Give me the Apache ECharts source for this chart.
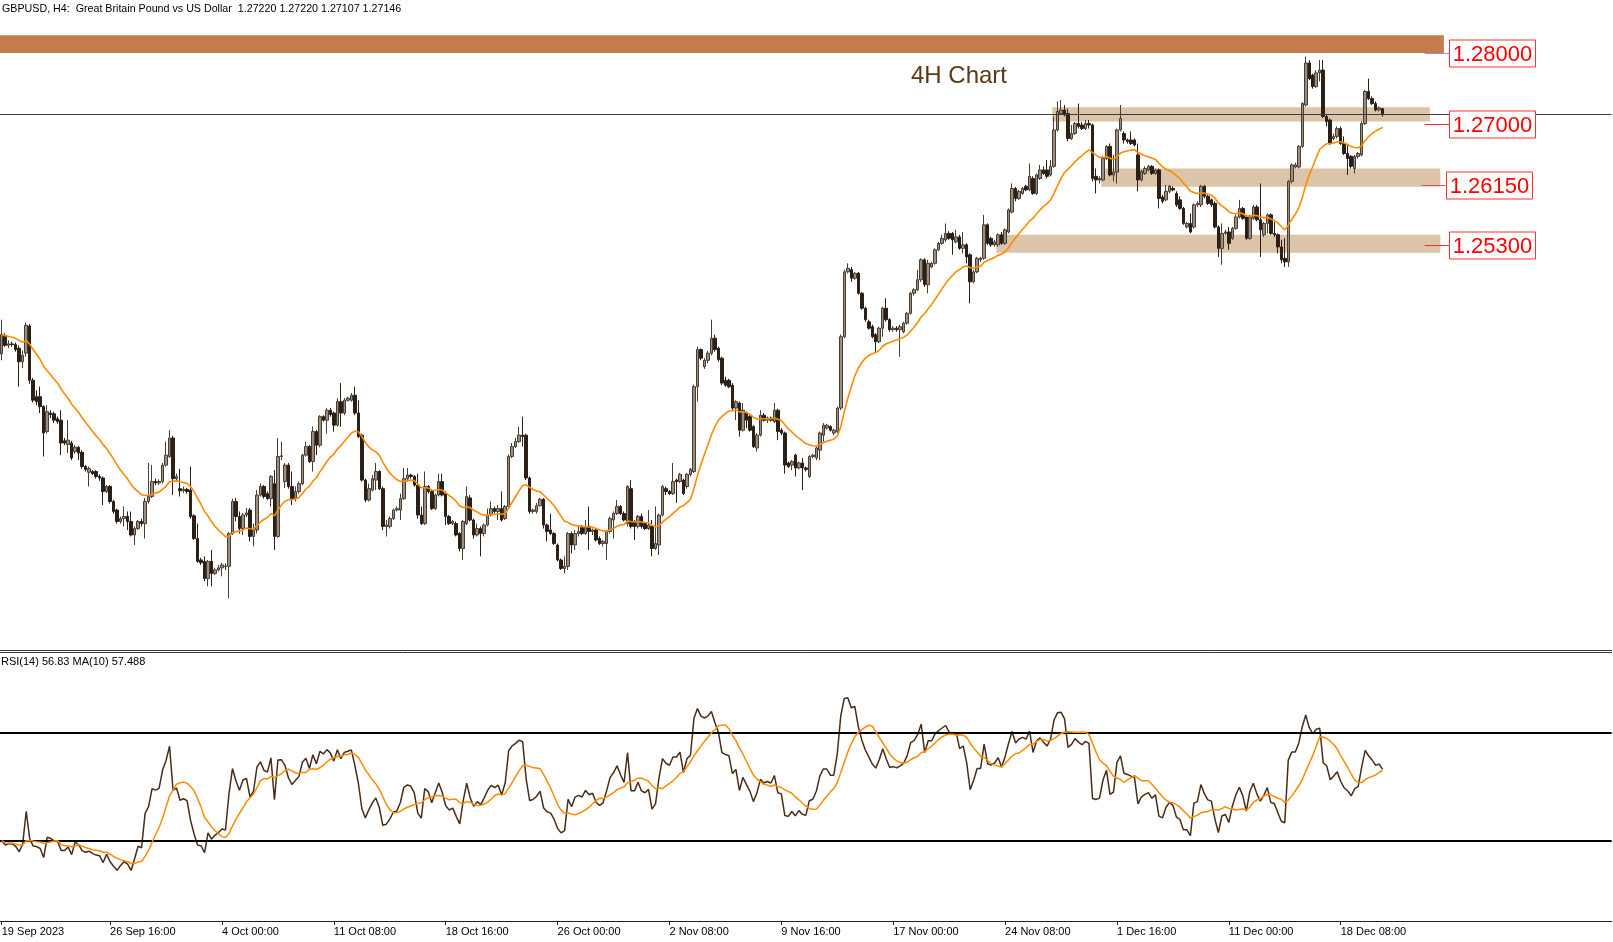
<!DOCTYPE html>
<html><head><meta charset="utf-8">
<script src="https://cdn.jsdelivr.net/npm/echarts/dist/echarts.min.js"></script>
<style>html,body{margin:0;padding:0;background:#fff;overflow:hidden}#c{width:1613px;height:942px}</style>
</head><body><div id="c"></div>
<script>
// ---- DATA: GBPUSD H4 bars [open, high, low, close], one array per trading week ----
const wkSep19 = [[1.2378,1.2426,1.2369,1.2405],[1.2404,1.2407,1.2388,1.2390],[1.2390,1.2397,1.2386,1.2392],[1.2392,1.2395,1.2388,1.2391],[1.2391,1.2394,1.2381,1.2384],[1.2386,1.2390,1.2332,1.2367],[1.2367,1.2383,1.2358,1.2376],[1.2379,1.2422,1.2374,1.2418],[1.2417,1.2420,1.2336,1.2341],[1.2341,1.2344,1.2310,1.2313],[1.2318,1.2327,1.2306,1.2311],[1.2318,1.2332,1.2295,1.2304],[1.2304,1.2306,1.2234,1.2267],[1.2269,1.2306,1.2266,1.2297],[1.2295,1.2299,1.2288,1.2293],[1.2294,1.2297,1.2281,1.2285],[1.2287,1.2290,1.2280,1.2283],[1.2285,1.2299,1.2236,1.2253],[1.2256,1.2260,1.2250,1.2253],[1.2251,1.2285,1.2239,1.2257],[1.2253,1.2256,1.2229,1.2232]];
const wkSep25 = [[1.2241,1.2250,1.2238,1.2247],[1.2247,1.2249,1.2229,1.2239],[1.2240,1.2243,1.2217,1.2220],[1.2220,1.2222,1.2213,1.2216],[1.2212,1.2220,1.2192,1.2217],[1.2213,1.2215,1.2208,1.2210],[1.2213,1.2215,1.2203,1.2206],[1.2206,1.2209,1.2200,1.2204],[1.2204,1.2206,1.2166,1.2185],[1.2185,1.2194,1.2183,1.2192],[1.2192,1.2194,1.2168,1.2171],[1.2171,1.2173,1.2154,1.2157],[1.2159,1.2161,1.2140,1.2143],[1.2143,1.2150,1.2140,1.2147],[1.2147,1.2164,1.2136,1.2150],[1.2150,1.2157,1.2131,1.2143],[1.2143,1.2157,1.2122,1.2124],[1.2124,1.2136,1.2110,1.2133],[1.2133,1.2145,1.2131,1.2143],[1.2143,1.2147,1.2136,1.2140],[1.2140,1.2176,1.2119,1.2171],[1.2171,1.2225,1.2168,1.2178],[1.2178,1.2222,1.2176,1.2199],[1.2199,1.2203,1.2194,1.2197],[1.2197,1.2202,1.2194,1.2199],[1.2199,1.2225,1.2196,1.2222],[1.2222,1.2255,1.2220,1.2236],[1.2234,1.2271,1.2232,1.2260],[1.2260,1.2263,1.2180,1.2203],[1.2203,1.2210,1.2199,1.2206]];
const wkOct02 = [[1.2189,1.2217,1.2178,1.2186],[1.2186,1.2192,1.2183,1.2188],[1.2188,1.2190,1.2182,1.2185],[1.2187,1.2220,1.2147,1.2150],[1.2151,1.2153,1.2117,1.2119],[1.2119,1.2140,1.2085,1.2087],[1.2089,1.2092,1.2082,1.2085],[1.2087,1.2094,1.2059,1.2063],[1.2063,1.2089,1.2052,1.2087],[1.2087,1.2103,1.2052,1.2070],[1.2070,1.2078,1.2068,1.2075],[1.2075,1.2082,1.2073,1.2078],[1.2078,1.2085,1.2066,1.2082],[1.2080,1.2084,1.2075,1.2080],[1.2080,1.2128,1.2035,1.2126],[1.2126,1.2175,1.2124,1.2171],[1.2171,1.2176,1.2143,1.2150],[1.2150,1.2157,1.2126,1.2133],[1.2133,1.2155,1.2124,1.2152],[1.2152,1.2162,1.2149,1.2155],[1.2159,1.2162,1.2115,1.2122],[1.2122,1.2140,1.2108,1.2131],[1.2131,1.2187,1.2126,1.2180],[1.2180,1.2196,1.2178,1.2192],[1.2192,1.2194,1.2175,1.2178],[1.2182,1.2185,1.2173,1.2175],[1.2175,1.2208,1.2164,1.2206],[1.2196,1.2215,1.2103,1.2122],[1.2122,1.2260,1.2120,1.2234],[1.2234,1.2255,1.2229,1.2235]];
const wkOct09 = [[1.2199,1.2225,1.2190,1.2222],[1.2222,1.2225,1.2189,1.2192],[1.2192,1.2213,1.2166,1.2175],[1.2175,1.2192,1.2171,1.2185],[1.2185,1.2199,1.2182,1.2196],[1.2196,1.2238,1.2194,1.2236],[1.2236,1.2255,1.2234,1.2248],[1.2248,1.2250,1.2225,1.2227],[1.2227,1.2276,1.2213,1.2269],[1.2269,1.2271,1.2236,1.2250],[1.2250,1.2292,1.2247,1.2290],[1.2290,1.2292,1.2283,1.2285],[1.2285,1.2302,1.2266,1.2299],[1.2299,1.2302,1.2290,1.2293],[1.2295,1.2297,1.2269,1.2278],[1.2278,1.2316,1.2276,1.2311],[1.2311,1.2337,1.2276,1.2295],[1.2295,1.2316,1.2292,1.2313],[1.2313,1.2318,1.2311,1.2316],[1.2313,1.2323,1.2311,1.2320],[1.2320,1.2332,1.2292,1.2295],[1.2295,1.2313,1.2260,1.2262],[1.2264,1.2266,1.2199,1.2201],[1.2201,1.2203,1.2170,1.2173],[1.2173,1.2196,1.2171,1.2189],[1.2187,1.2208,1.2185,1.2203],[1.2201,1.2225,1.2187,1.2213],[1.2213,1.2215,1.2187,1.2189],[1.2189,1.2192,1.2131,1.2136],[1.2136,1.2145,1.2122,1.2138]];
const wkOct16 = [[1.2136,1.2150,1.2133,1.2147],[1.2147,1.2161,1.2145,1.2159],[1.2159,1.2164,1.2157,1.2161],[1.2159,1.2182,1.2145,1.2175],[1.2175,1.2218,1.2173,1.2203],[1.2203,1.2218,1.2199,1.2208],[1.2208,1.2210,1.2203,1.2206],[1.2206,1.2208,1.2192,1.2194],[1.2194,1.2210,1.2147,1.2152],[1.2152,1.2164,1.2138,1.2140],[1.2140,1.2213,1.2138,1.2192],[1.2192,1.2194,1.2182,1.2185],[1.2185,1.2187,1.2159,1.2161],[1.2161,1.2182,1.2159,1.2180],[1.2180,1.2210,1.2178,1.2199],[1.2199,1.2210,1.2178,1.2180],[1.2182,1.2185,1.2138,1.2150],[1.2150,1.2152,1.2138,1.2140],[1.2140,1.2145,1.2138,1.2143],[1.2140,1.2143,1.2122,1.2124],[1.2126,1.2128,1.2101,1.2105],[1.2105,1.2145,1.2089,1.2143],[1.2140,1.2192,1.2138,1.2178],[1.2176,1.2180,1.2143,1.2145],[1.2145,1.2147,1.2119,1.2124],[1.2124,1.2140,1.2122,1.2133],[1.2133,1.2136,1.2094,1.2126],[1.2126,1.2140,1.2122,1.2138],[1.2138,1.2161,1.2136,1.2152],[1.2152,1.2171,1.2150,1.2161]];
const wkOct23 = [[1.2161,1.2164,1.2154,1.2157],[1.2157,1.2166,1.2145,1.2161],[1.2161,1.2185,1.2143,1.2145],[1.2147,1.2166,1.2145,1.2164],[1.2164,1.2237,1.2161,1.2234],[1.2234,1.2253,1.2232,1.2248],[1.2248,1.2260,1.2246,1.2255],[1.2255,1.2276,1.2253,1.2264],[1.2264,1.2290,1.2248,1.2262],[1.2264,1.2266,1.2201,1.2204],[1.2204,1.2206,1.2154,1.2157],[1.2157,1.2161,1.2154,1.2159],[1.2157,1.2169,1.2154,1.2165],[1.2165,1.2176,1.2164,1.2174],[1.2174,1.2176,1.2133,1.2138],[1.2138,1.2140,1.2115,1.2129],[1.2131,1.2154,1.2124,1.2126],[1.2126,1.2128,1.2110,1.2112],[1.2110,1.2112,1.2087,1.2089],[1.2089,1.2091,1.2075,1.2077],[1.2077,1.2094,1.2070,1.2080],[1.2080,1.2128,1.2075,1.2126],[1.2126,1.2129,1.2098,1.2110],[1.2110,1.2131,1.2103,1.2126],[1.2126,1.2138,1.2122,1.2129],[1.2136,1.2138,1.2124,1.2126],[1.2126,1.2145,1.2124,1.2136],[1.2136,1.2164,1.2103,1.2129],[1.2129,1.2133,1.2124,1.2131],[1.2131,1.2133,1.2115,1.2117]];
const wkOct30 = [[1.2119,1.2122,1.2110,1.2112],[1.2112,1.2117,1.2108,1.2115],[1.2112,1.2131,1.2089,1.2129],[1.2129,1.2150,1.2126,1.2147],[1.2145,1.2157,1.2119,1.2154],[1.2154,1.2173,1.2152,1.2164],[1.2164,1.2166,1.2152,1.2154],[1.2154,1.2157,1.2143,1.2145],[1.2140,1.2194,1.2136,1.2192],[1.2189,1.2201,1.2133,1.2136],[1.2143,1.2145,1.2117,1.2136],[1.2136,1.2152,1.2133,1.2150],[1.2150,1.2154,1.2133,1.2136],[1.2140,1.2142,1.2131,1.2133],[1.2133,1.2159,1.2131,1.2138],[1.2136,1.2145,1.2094,1.2105],[1.2105,1.2164,1.2103,1.2112],[1.2110,1.2154,1.2096,1.2152],[1.2152,1.2194,1.2150,1.2192],[1.2189,1.2192,1.2180,1.2185],[1.2185,1.2187,1.2180,1.2182],[1.2182,1.2225,1.2180,1.2199],[1.2201,1.2203,1.2169,1.2199],[1.2199,1.2211,1.2197,1.2209],[1.2201,1.2203,1.2180,1.2182],[1.2192,1.2211,1.2189,1.2209],[1.2209,1.2218,1.2206,1.2216],[1.2213,1.2335,1.2211,1.2332],[1.2332,1.2388,1.2311,1.2384],[1.2384,1.2386,1.2369,1.2372]];
const wkNov06 = [[1.2360,1.2372,1.2357,1.2369],[1.2369,1.2382,1.2365,1.2379],[1.2379,1.2426,1.2376,1.2400],[1.2400,1.2405,1.2381,1.2384],[1.2386,1.2388,1.2367,1.2370],[1.2372,1.2374,1.2334,1.2337],[1.2341,1.2346,1.2332,1.2334],[1.2341,1.2343,1.2330,1.2332],[1.2334,1.2337,1.2299,1.2302],[1.2302,1.2313,1.2285,1.2311],[1.2309,1.2311,1.2262,1.2271],[1.2271,1.2309,1.2269,1.2299],[1.2295,1.2297,1.2274,1.2285],[1.2290,1.2292,1.2269,1.2271],[1.2276,1.2278,1.2246,1.2248],[1.2246,1.2267,1.2241,1.2264],[1.2264,1.2299,1.2262,1.2292],[1.2292,1.2295,1.2283,1.2285],[1.2285,1.2290,1.2281,1.2288],[1.2288,1.2290,1.2283,1.2285],[1.2283,1.2309,1.2281,1.2299],[1.2299,1.2301,1.2257,1.2269],[1.2271,1.2274,1.2264,1.2267],[1.2267,1.2269,1.2210,1.2222],[1.2225,1.2227,1.2218,1.2220],[1.2222,1.2229,1.2215,1.2227],[1.2236,1.2238,1.2206,1.2218],[1.2218,1.2227,1.2216,1.2225],[1.2225,1.2232,1.2187,1.2218],[1.2218,1.2220,1.2213,1.2216]];
const wkNov13 = [[1.2206,1.2236,1.2204,1.2234],[1.2234,1.2238,1.2232,1.2236],[1.2232,1.2248,1.2229,1.2246],[1.2243,1.2269,1.2229,1.2267],[1.2264,1.2281,1.2255,1.2278],[1.2274,1.2280,1.2272,1.2278],[1.2276,1.2278,1.2269,1.2271],[1.2267,1.2273,1.2264,1.2271],[1.2269,1.2304,1.2267,1.2302],[1.2302,1.2405,1.2299,1.2402],[1.2402,1.2496,1.2400,1.2493],[1.2493,1.2505,1.2491,1.2498],[1.2496,1.2500,1.2479,1.2484],[1.2484,1.2493,1.2482,1.2491],[1.2491,1.2493,1.2461,1.2463],[1.2463,1.2465,1.2440,1.2442],[1.2442,1.2444,1.2423,1.2426],[1.2423,1.2426,1.2412,1.2414],[1.2416,1.2419,1.2400,1.2402],[1.2405,1.2407,1.2381,1.2395],[1.2395,1.2416,1.2393,1.2414],[1.2414,1.2444,1.2402,1.2442],[1.2442,1.2456,1.2423,1.2426],[1.2426,1.2428,1.2409,1.2412],[1.2412,1.2417,1.2409,1.2414],[1.2414,1.2417,1.2409,1.2412],[1.2412,1.2419,1.2374,1.2416],[1.2409,1.2423,1.2407,1.2421],[1.2421,1.2437,1.2419,1.2435],[1.2435,1.2465,1.2433,1.2463]];
const wkNov20 = [[1.2463,1.2470,1.2460,1.2468],[1.2468,1.2496,1.2466,1.2482],[1.2482,1.2512,1.2479,1.2510],[1.2510,1.2512,1.2472,1.2475],[1.2475,1.2510,1.2463,1.2505],[1.2500,1.2507,1.2498,1.2505],[1.2505,1.2526,1.2503,1.2524],[1.2524,1.2535,1.2522,1.2533],[1.2533,1.2545,1.2531,1.2540],[1.2538,1.2561,1.2535,1.2547],[1.2547,1.2550,1.2538,1.2540],[1.2547,1.2549,1.2517,1.2538],[1.2535,1.2552,1.2533,1.2542],[1.2542,1.2545,1.2524,1.2526],[1.2526,1.2549,1.2519,1.2531],[1.2531,1.2533,1.2505,1.2514],[1.2517,1.2519,1.2449,1.2479],[1.2479,1.2496,1.2477,1.2493],[1.2493,1.2514,1.2491,1.2512],[1.2510,1.2514,1.2507,1.2512],[1.2512,1.2573,1.2510,1.2559],[1.2559,1.2561,1.2531,1.2533],[1.2540,1.2542,1.2528,1.2531],[1.2531,1.2538,1.2528,1.2535],[1.2531,1.2547,1.2528,1.2545],[1.2545,1.2549,1.2531,1.2533],[1.2533,1.2554,1.2531,1.2552],[1.2549,1.2582,1.2547,1.2580],[1.2577,1.2617,1.2575,1.2610],[1.2610,1.2612,1.2592,1.2596]];
const wkNov27 = [[1.2596,1.2608,1.2594,1.2606],[1.2603,1.2612,1.2601,1.2610],[1.2613,1.2615,1.2606,1.2608],[1.2608,1.2645,1.2606,1.2627],[1.2624,1.2627,1.2601,1.2603],[1.2603,1.2631,1.2601,1.2629],[1.2624,1.2643,1.2622,1.2636],[1.2636,1.2641,1.2629,1.2631],[1.2636,1.2650,1.2624,1.2627],[1.2629,1.2650,1.2627,1.2641],[1.2641,1.2711,1.2639,1.2692],[1.2692,1.2732,1.2690,1.2718],[1.2715,1.2734,1.2713,1.2720],[1.2720,1.2727,1.2711,1.2713],[1.2715,1.2722,1.2676,1.2680],[1.2680,1.2699,1.2678,1.2687],[1.2687,1.2703,1.2685,1.2701],[1.2701,1.2729,1.2694,1.2697],[1.2699,1.2703,1.2692,1.2694],[1.2694,1.2706,1.2692,1.2701],[1.2701,1.2706,1.2694,1.2699],[1.2699,1.2701,1.2620,1.2624],[1.2627,1.2638,1.2603,1.2622],[1.2622,1.2627,1.2617,1.2624],[1.2622,1.2655,1.2620,1.2652],[1.2652,1.2671,1.2650,1.2669],[1.2669,1.2673,1.2627,1.2629],[1.2629,1.2657,1.2620,1.2633],[1.2633,1.2694,1.2617,1.2692],[1.2692,1.2727,1.2690,1.2708]];
const wkDec04 = [[1.2687,1.2690,1.2673,1.2678],[1.2678,1.2680,1.2673,1.2676],[1.2678,1.2690,1.2671,1.2673],[1.2678,1.2680,1.2669,1.2671],[1.2657,1.2673,1.2606,1.2622],[1.2622,1.2636,1.2620,1.2634],[1.2631,1.2641,1.2629,1.2638],[1.2636,1.2643,1.2634,1.2641],[1.2641,1.2643,1.2629,1.2631],[1.2631,1.2638,1.2629,1.2636],[1.2636,1.2638,1.2582,1.2596],[1.2598,1.2601,1.2589,1.2592],[1.2594,1.2615,1.2592,1.2606],[1.2606,1.2615,1.2603,1.2613],[1.2610,1.2613,1.2606,1.2608],[1.2603,1.2606,1.2584,1.2587],[1.2594,1.2599,1.2580,1.2582],[1.2582,1.2584,1.2559,1.2561],[1.2556,1.2563,1.2554,1.2561],[1.2561,1.2575,1.2547,1.2549],[1.2556,1.2589,1.2554,1.2587],[1.2587,1.2592,1.2584,1.2589],[1.2587,1.2615,1.2584,1.2613],[1.2613,1.2615,1.2596,1.2599],[1.2599,1.2601,1.2587,1.2589],[1.2594,1.2596,1.2584,1.2587],[1.2589,1.2592,1.2554,1.2556],[1.2556,1.2558,1.2514,1.2526],[1.2526,1.2561,1.2503,1.2547],[1.2547,1.2552,1.2545,1.2549]];
const wkDec11 = [[1.2549,1.2556,1.2524,1.2533],[1.2540,1.2556,1.2538,1.2554],[1.2554,1.2573,1.2552,1.2570],[1.2570,1.2594,1.2568,1.2582],[1.2582,1.2584,1.2566,1.2568],[1.2570,1.2573,1.2538,1.2540],[1.2540,1.2573,1.2538,1.2570],[1.2568,1.2587,1.2566,1.2584],[1.2584,1.2587,1.2564,1.2566],[1.2566,1.2617,1.2514,1.2552],[1.2545,1.2563,1.2542,1.2561],[1.2561,1.2575,1.2547,1.2573],[1.2573,1.2575,1.2545,1.2547],[1.2547,1.2563,1.2542,1.2545],[1.2545,1.2547,1.2519,1.2528],[1.2528,1.2538,1.2505,1.2510],[1.2512,1.2540,1.2500,1.2507],[1.2507,1.2622,1.2500,1.2620],[1.2620,1.2645,1.2617,1.2643],[1.2640,1.2646,1.2638,1.2643],[1.2640,1.2671,1.2638,1.2669],[1.2669,1.2731,1.2667,1.2729],[1.2727,1.2795,1.2725,1.2786],[1.2786,1.2790,1.2762,1.2764],[1.2769,1.2771,1.2750,1.2753],[1.2753,1.2776,1.2751,1.2772],[1.2772,1.2790,1.2760,1.2776],[1.2776,1.2790,1.2709,1.2711],[1.2711,1.2713,1.2697,1.2704],[1.2706,1.2708,1.2671,1.2673]];
const wkDec18 = [[1.2680,1.2687,1.2678,1.2683],[1.2683,1.2697,1.2680,1.2694],[1.2694,1.2697,1.2671,1.2673],[1.2673,1.2683,1.2657,1.2659],[1.2659,1.2671,1.2629,1.2652],[1.2655,1.2657,1.2638,1.2641],[1.2638,1.2657,1.2631,1.2655],[1.2655,1.2661,1.2652,1.2659],[1.2657,1.2704,1.2655,1.2701],[1.2701,1.2748,1.2699,1.2746],[1.2746,1.2764,1.2734,1.2736],[1.2736,1.2739,1.2727,1.2729],[1.2729,1.2732,1.2718,1.2720],[1.2720,1.2725,1.2718,1.2723],[1.27220,1.27220,1.27107,1.27146]];

const firstBar = '2023-09-19T12:00:00Z';
const tickLabels = ['19 Sep 2023','26 Sep 16:00','4 Oct 00:00','11 Oct 08:00','18 Oct 16:00','26 Oct 00:00','2 Nov 08:00','9 Nov 16:00','17 Nov 00:00','24 Nov 08:00','1 Dec 16:00','11 Dec 00:00','18 Dec 08:00'];
const lastPrice = 1.27146;
const titleText = 'GBPUSD, H4:  Great Britain Pound vs US Dollar  1.27220 1.27220 1.27107 1.27146';
const rsiText = 'RSI(14) 56.83 MA(10) 57.488';
// zones (support/resistance bands)
const zoneFrom = ['19 Sep 12:00','28 Nov 16:00','1 Dec 00:00','24 Nov 00:00'];
const zoneTo   = ['25 Dec 04:00','22 Dec 12:00','25 Dec 00:00','25 Dec 00:00'];
const zoneLow  = [1.2800, 1.2704, 1.26125, 1.2520];
const zoneHigh = [1.2825, 1.2724, 1.2638, 1.2545];
// level labels
const levelPrice = [1.28, 1.27, 1.2615, 1.253];
const levelText  = ['1.28000','1.27000','1.26150','1.25300'];
const levelFrom  = ['22 Dec 08:00','22 Dec 08:00','22 Dec 04:00','22 Dec 08:00'];
const levelAt    = ['25 Dec 12:00','25 Dec 12:00','25 Dec 08:00','25 Dec 12:00'];

// ---- build ----
const bars = [].concat(wkSep19, wkSep25, wkOct02, wkOct09, wkOct16, wkOct23, wkOct30, wkNov06, wkNov13, wkNov20, wkNov27, wkDec04, wkDec11, wkDec18);
const MON = ['Jan','Feb','Mar','Apr','May','Jun','Jul','Aug','Sep','Oct','Nov','Dec'];
const NCAT = 461;
const categories = [];
let t = Date.parse(firstBar);
while (categories.length < NCAT) {
  const d = new Date(t); const wd = d.getUTCDay();
  if (wd !== 0 && wd !== 6) categories.push(d.getUTCDate() + ' ' + MON[d.getUTCMonth()] + ' ' + String(d.getUTCHours()).padStart(2,'0') + ':00');
  t += 4 * 3600e3;
}
const closes = bars.map(b => b[3]);
const candleData = bars.map(b => [b[0], b[3], b[2], b[1]]);
// EMA(20)
const ema = []; { const a = 2 / 21; let e = closes[0]; closes.forEach((c, k) => { e = k === 0 ? c : e + a * (c - e); ema.push(+e.toFixed(5)); }); }
// RSI(14) Wilder; smoothing state seeded with the mean gain/loss of the first 14 changes
const rsi = []; { const n = 14; let ag = 0, al = 0;
  for (let k = 1; k <= n; k++) { const d = closes[k] - closes[k-1]; ag += Math.max(d,0) / n; al += Math.max(-d,0) / n; }
  rsi.push(100 - 100 / (1 + ag / al));
  for (let k = 1; k < closes.length; k++) { const d = closes[k] - closes[k-1];
    ag = (ag * (n - 1) + Math.max(d,0)) / n; al = (al * (n - 1) + Math.max(-d,0)) / n;
    rsi.push(al === 0 ? 100 : 100 - 100 / (1 + ag / al)); } }
// MA(10) of RSI
const rsiMa = rsi.map((v, k) => { let s = 0, c = 0; for (let j = Math.max(0, k - 9); j <= k; j++) { s += rsi[j]; c++; } return s / c; });

const idx = n => categories.indexOf(n);
const zoneData = zoneFrom.map((f, k) => [idx(f), idx(zoneTo[k]), zoneLow[k], zoneHigh[k]]);
const levelData = levelPrice.map((p, k) => [idx(levelFrom[k]), idx(levelAt[k]), p]);
const tickSet = new Set(tickLabels);
const showTick = (i, v) => i === 0 || tickSet.has(v);

const FONT = '"Liberation Sans", Arial, sans-serif';
const zoneColors = ['#c47c4c', '#dcc4a8', '#dcc4a8', '#dcc4a8'];
const levelLineColors = ['#c87ac0', '#f03030', '#e8506a', '#f03030'];

const chart = echarts.init(document.getElementById('c'), null, {renderer: 'canvas', width: 1613, height: 942});
const GW = NCAT * 3.496;
chart.setOption({
  animation: false,
  backgroundColor: '#ffffff',
  grid: [
    {left: 0, top: 0, width: GW, height: 650, outerBoundsMode: 'none', containLabel: false},
    {left: 0, top: 652, width: GW, height: 269, outerBoundsMode: 'none', containLabel: false}
  ],
  xAxis: [
    {type: 'category', gridIndex: 0, data: categories, boundaryGap: true,
     axisLine: {show: true, lineStyle: {color: '#3a3a3a', width: 1}}, axisTick: {show: false}, axisLabel: {show: false}, splitLine: {show: false}},
    {type: 'category', gridIndex: 1, data: categories, boundaryGap: true, position: 'bottom',
     axisLine: {show: true, lineStyle: {color: '#222', width: 1}},
     axisTick: {show: true, alignWithLabel: true, interval: showTick, length: 4, lineStyle: {color: '#222'}},
     axisLabel: {show: true, interval: showTick, align: 'left', margin: 5, fontSize: 11, fontFamily: FONT, color: '#000',
                 formatter: (v, i) => i === 0 ? tickLabels[0] : v},
     splitLine: {show: false}},
    {type: 'category', gridIndex: 1, data: categories, position: 'top',
     axisLine: {show: true, lineStyle: {color: '#3a3a3a', width: 1}}, axisTick: {show: false}, axisLabel: {show: false}}
  ],
  yAxis: [
    {type: 'value', gridIndex: 0, min: 1.19627, max: 1.28743, show: false, splitLine: {show: false}},
    {type: 'value', gridIndex: 1, min: 0, max: 100, show: false, splitLine: {show: false}}
  ],
  graphic: [
    {type: 'text', x: 2, y: 9, z: 100, style: {text: titleText, font: '10.7px ' + FONT, fill: '#000', verticalAlign: 'middle'}},
    {type: 'text', x: 959, y: 76, z: 100, style: {text: '4H Chart', font: '24px ' + FONT, fill: '#5a3818', align: 'center', verticalAlign: 'middle'}},
    {type: 'text', x: 1, y: 662, z: 100, style: {text: rsiText, font: '11px ' + FONT, fill: '#000', verticalAlign: 'middle'}}
  ],
  series: [
    {type: 'custom', name: 'zones', xAxisIndex: 0, yAxisIndex: 0, z: 1, silent: true, clip: false,
     data: zoneData, encode: {x: [0, 1], y: [2, 3]},
     renderItem: (params, api) => {
       const w = api.size([1, 0])[0];
       const a = api.coord([api.value(0), api.value(3)]);
       const b = api.coord([api.value(1), api.value(2)]);
       return {type: 'rect', shape: {x: a[0] - w / 2, y: a[1], width: b[0] - a[0] + w, height: b[1] - a[1]},
               style: {fill: zoneColors[params.dataIndex]}};
     }},
    {type: 'candlestick', name: 'GBPUSD', xAxisIndex: 0, yAxisIndex: 0, z: 3, barWidth: 3, data: candleData,
     itemStyle: {color: '#9a8e81', color0: '#2b1f16', borderColor: '#4a3d31', borderColor0: '#2b1f16', borderWidth: 1},
     markLine: {silent: true, precision: 5, symbol: ['none', 'none'], label: {show: false},
                lineStyle: {color: '#3c3c3c', width: 1, type: 'solid'}, data: [{yAxis: lastPrice}]}},
    {type: 'line', name: 'EMA20', xAxisIndex: 0, yAxisIndex: 0, z: 4, data: ema, symbol: 'none', smooth: false,
     lineStyle: {color: '#ff8a00', width: 1.6}},
    {type: 'custom', name: 'levels', xAxisIndex: 0, yAxisIndex: 0, z: 6, silent: true, clip: false,
     data: levelData, encode: {x: [0, 1], y: 2},
     renderItem: (params, api) => {
       const k = params.dataIndex;
       const p = api.coord([api.value(1), api.value(2)]);
       const f = api.coord([api.value(0), api.value(2)]);
       const y = Math.round(p[1]) + 0.5;
       return {type: 'group', children: [
         {type: 'line', shape: {x1: f[0], y1: y, x2: p[0], y2: y}, style: {stroke: levelLineColors[k], lineWidth: 1}},
         {type: 'rect', shape: {x: Math.round(p[0]) + 0.5, y: y - 13.5, width: 86, height: 27}, style: {fill: '#fff', stroke: '#ff3030', lineWidth: 1}},
         {type: 'text', style: {text: levelText[k], x: Math.round(p[0]) + 43.5, y: y + 1, align: 'center', verticalAlign: 'middle', font: '22px ' + FONT, fill: '#ff0000'}}
       ]};
     }},
    {type: 'line', name: 'RSI', xAxisIndex: 1, yAxisIndex: 1, data: rsi, symbol: 'none', z: 4,
     lineStyle: {color: '#4a2c16', width: 1.5},
     markLine: {silent: true, symbol: ['none', 'none'], label: {show: false},
                lineStyle: {color: '#000', width: 2, type: 'solid'}, data: [{yAxis: 70}, {yAxis: 30}]}},
    {type: 'line', name: 'RSI MA', xAxisIndex: 1, yAxisIndex: 1, data: rsiMa, symbol: 'none', z: 5,
     lineStyle: {color: '#ff8a00', width: 1.5}}
  ]
});
</script>
</body></html>
